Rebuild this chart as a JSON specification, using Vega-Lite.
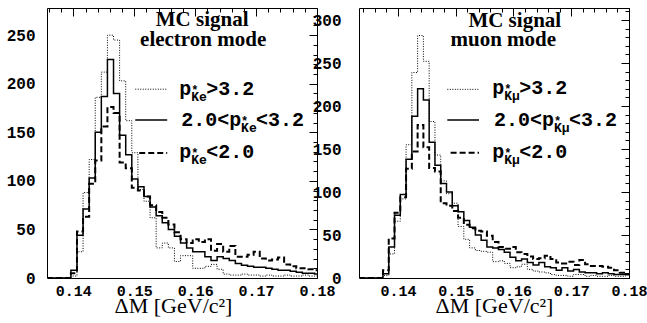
{
  "$schema": "https://vega.github.io/schema/vega-lite/v6.json",
  "background": "white",
  "padding": {"left": 5, "top": 7, "right": 0, "bottom": 0},
  "config": {
    "view": {"stroke": "black", "strokeWidth": 1},
    "axis": {"labelColor": "black", "tickColor": "black", "grid": false, "domain": false}
  },
  "datasets": {
    "e_hist": [
      {"x": 0.1357, "hi": 0, "mid": 0, "lo": 0},
      {"x": 0.1396, "hi": 2, "mid": 8, "lo": 5},
      {"x": 0.1406, "hi": 27, "mid": 44, "lo": 48},
      {"x": 0.1416, "hi": 88, "mid": 71, "lo": 63},
      {"x": 0.1426, "hi": 122, "mid": 103, "lo": 97},
      {"x": 0.1436, "hi": 186, "mid": 150, "lo": 121},
      {"x": 0.1446, "hi": 212, "mid": 187, "lo": 156},
      {"x": 0.1456, "hi": 250, "mid": 225, "lo": 176},
      {"x": 0.1466, "hi": 245, "mid": 190, "lo": 170},
      {"x": 0.1476, "hi": 203, "mid": 147, "lo": 119},
      {"x": 0.1486, "hi": 162, "mid": 127, "lo": 113},
      {"x": 0.1496, "hi": 129, "mid": 102, "lo": 93},
      {"x": 0.1506, "hi": 91, "mid": 94, "lo": 90},
      {"x": 0.1516, "hi": 79, "mid": 84, "lo": 84},
      {"x": 0.1526, "hi": 62, "mid": 73, "lo": 75},
      {"x": 0.1536, "hi": 31, "mid": 64, "lo": 68},
      {"x": 0.1546, "hi": 36, "mid": 57, "lo": 62},
      {"x": 0.1556, "hi": 31, "mid": 50, "lo": 55},
      {"x": 0.1566, "hi": 17, "mid": 43, "lo": 47},
      {"x": 0.1576, "hi": 23, "mid": 36, "lo": 40},
      {"x": 0.1586, "hi": 23, "mid": 31, "lo": 36},
      {"x": 0.1596, "hi": 10, "mid": 27, "lo": 40},
      {"x": 0.1606, "hi": 10, "mid": 27, "lo": 37},
      {"x": 0.1616, "hi": 12, "mid": 22, "lo": 40},
      {"x": 0.1626, "hi": 14, "mid": 18, "lo": 28},
      {"x": 0.1636, "hi": 9, "mid": 22, "lo": 35},
      {"x": 0.1646, "hi": 4, "mid": 20, "lo": 27},
      {"x": 0.1656, "hi": 3, "mid": 18, "lo": 33},
      {"x": 0.1666, "hi": 3, "mid": 15, "lo": 22},
      {"x": 0.1676, "hi": 4, "mid": 13, "lo": 22},
      {"x": 0.1686, "hi": 3, "mid": 12, "lo": 24},
      {"x": 0.1696, "hi": 3, "mid": 11, "lo": 27},
      {"x": 0.1706, "hi": 2, "mid": 11, "lo": 20},
      {"x": 0.1716, "hi": 3, "mid": 10, "lo": 18},
      {"x": 0.1726, "hi": 2, "mid": 9, "lo": 19},
      {"x": 0.1736, "hi": 2, "mid": 8, "lo": 21},
      {"x": 0.1746, "hi": 3, "mid": 8, "lo": 14},
      {"x": 0.1756, "hi": 2, "mid": 7, "lo": 12},
      {"x": 0.1766, "hi": 2, "mid": 6, "lo": 10},
      {"x": 0.1776, "hi": 3, "mid": 5, "lo": 10},
      {"x": 0.1786, "hi": 2, "mid": 5, "lo": 9},
      {"x": 0.1796, "hi": 2, "mid": 4, "lo": 8},
      {"x": 0.18, "hi": 2, "mid": 4, "lo": 8}
    ],
    "m_hist": [
      {"x": 0.13325, "hi": 0, "mid": 0, "lo": 0},
      {"x": 0.1374, "hi": 3, "mid": 5, "lo": 9},
      {"x": 0.1384, "hi": 28, "mid": 36, "lo": 46},
      {"x": 0.1394, "hi": 66, "mid": 73, "lo": 76},
      {"x": 0.1404, "hi": 92, "mid": 97, "lo": 94},
      {"x": 0.1414, "hi": 155, "mid": 138, "lo": 127},
      {"x": 0.1424, "hi": 239, "mid": 188, "lo": 147},
      {"x": 0.1434, "hi": 282, "mid": 220, "lo": 178},
      {"x": 0.1444, "hi": 252, "mid": 207, "lo": 152},
      {"x": 0.1454, "hi": 182, "mid": 158, "lo": 128},
      {"x": 0.1464, "hi": 143, "mid": 131, "lo": 124},
      {"x": 0.1474, "hi": 113, "mid": 110, "lo": 87},
      {"x": 0.1484, "hi": 98, "mid": 100, "lo": 84},
      {"x": 0.1494, "hi": 87, "mid": 84, "lo": 78},
      {"x": 0.1504, "hi": 60, "mid": 77, "lo": 70},
      {"x": 0.1514, "hi": 45, "mid": 67, "lo": 62},
      {"x": 0.1524, "hi": 35, "mid": 59, "lo": 58},
      {"x": 0.1534, "hi": 32, "mid": 50, "lo": 55},
      {"x": 0.1544, "hi": 31, "mid": 44, "lo": 54},
      {"x": 0.1554, "hi": 30, "mid": 36, "lo": 49},
      {"x": 0.1564, "hi": 19, "mid": 35, "lo": 42},
      {"x": 0.1574, "hi": 20, "mid": 33, "lo": 36},
      {"x": 0.1584, "hi": 17, "mid": 30, "lo": 34},
      {"x": 0.1594, "hi": 12, "mid": 24, "lo": 36},
      {"x": 0.1604, "hi": 13, "mid": 20, "lo": 30},
      {"x": 0.1614, "hi": 16, "mid": 22, "lo": 28},
      {"x": 0.1624, "hi": 10, "mid": 18, "lo": 25},
      {"x": 0.1634, "hi": 8, "mid": 15, "lo": 22},
      {"x": 0.1644, "hi": 7, "mid": 18, "lo": 23},
      {"x": 0.1654, "hi": 6, "mid": 13, "lo": 26},
      {"x": 0.1664, "hi": 4, "mid": 12, "lo": 22},
      {"x": 0.1674, "hi": 3, "mid": 9, "lo": 18},
      {"x": 0.1684, "hi": 3, "mid": 12, "lo": 17},
      {"x": 0.1694, "hi": 2, "mid": 8, "lo": 19},
      {"x": 0.1704, "hi": 4, "mid": 10, "lo": 15},
      {"x": 0.1714, "hi": 4, "mid": 7, "lo": 21},
      {"x": 0.1724, "hi": 2, "mid": 6, "lo": 16},
      {"x": 0.1734, "hi": 3, "mid": 6, "lo": 14},
      {"x": 0.1744, "hi": 2, "mid": 5, "lo": 14},
      {"x": 0.1754, "hi": 2, "mid": 6, "lo": 13},
      {"x": 0.1764, "hi": 3, "mid": 5, "lo": 12},
      {"x": 0.1774, "hi": 2, "mid": 4, "lo": 9},
      {"x": 0.1784, "hi": 2, "mid": 4, "lo": 6},
      {"x": 0.1794, "hi": 4, "mid": 5, "lo": 4},
      {"x": 0.18, "hi": 4, "mid": 5, "lo": 4}
    ],
    "e_ann": [
      {"kind": "line", "series": "hi", "x": 0.15017, "x2": 0.15541, "y": 194.4},
      {"kind": "line", "series": "mid", "x": 0.15017, "x2": 0.15541, "y": 162.6},
      {"kind": "line", "series": "lo", "x": 0.15082, "x2": 0.15541, "y": 128.6},
      {"kind": "main", "x": 0.15738, "y": 188.3, "t": "p"},
      {"kind": "main", "x": 0.16181, "y": 188.3, "t": ">3.2"},
      {"kind": "main", "x": 0.15771, "y": 156.4, "t": "2.0<p"},
      {"kind": "main", "x": 0.17, "y": 156.4, "t": "<3.2"},
      {"kind": "main", "x": 0.15738, "y": 123.5, "t": "p"},
      {"kind": "main", "x": 0.16181, "y": 123.5, "t": "<2.0"},
      {"kind": "script", "x": 0.15935, "y": 188.3, "sup": "*", "sub": "Ke"},
      {"kind": "script", "x": 0.16754, "y": 156.4, "sup": "*", "sub": "Ke"},
      {"kind": "script", "x": 0.15935, "y": 123.5, "sup": "*", "sub": "Ke"},
      {"kind": "title", "x": 0.16115, "y": 259.3, "t": "MC signal"},
      {"kind": "title", "x": 0.16131, "y": 239.2, "t": "electron mode"}
    ],
    "m_ann": [
      {"kind": "line", "series": "hi", "x": 0.14854, "x2": 0.15403, "y": 219.4},
      {"kind": "line", "series": "mid", "x": 0.14854, "x2": 0.15403, "y": 183.7},
      {"kind": "line", "series": "lo", "x": 0.14911, "x2": 0.15403, "y": 145.7},
      {"kind": "main", "x": 0.15633, "y": 213.6, "t": "p"},
      {"kind": "main", "x": 0.161, "y": 213.6, "t": ">3.2"},
      {"kind": "main", "x": 0.15662, "y": 176.7, "t": "2.0<p"},
      {"kind": "main", "x": 0.16961, "y": 176.7, "t": "<3.2"},
      {"kind": "main", "x": 0.15633, "y": 139.9, "t": "p"},
      {"kind": "main", "x": 0.161, "y": 139.9, "t": "<2.0"},
      {"kind": "script", "x": 0.15841, "y": 213.6, "sup": "*", "sub": "Kμ"},
      {"kind": "script", "x": 0.16701, "y": 176.7, "sup": "*", "sub": "Kμ"},
      {"kind": "script", "x": 0.15841, "y": 139.9, "sup": "*", "sub": "Kμ"},
      {"kind": "title", "x": 0.16022, "y": 291.9, "t": "MC signal"},
      {"kind": "title", "x": 0.15823, "y": 269.8, "t": "muon mode"}
    ]
  },
  "hconcat": [
    {
      "width": 270,
      "height": 270,
      "resolve": {"axis": {"x": "independent", "y": "independent"}},
      "layer": [
        {
          "data": {"name": "e_hist"},
          "transform": [{"fold": ["hi", "mid", "lo"], "as": ["series", "n"]}],
          "mark": {"type": "line", "interpolate": "step-after", "color": "black", "clip": true},
          "encoding": {
            "x": {"field": "x", "type": "quantitative", "scale": {"domain": [0.13568, 0.18], "nice": false, "zero": false},
              "axis": {"values": [0.14, 0.15, 0.16, 0.17, 0.18], "format": ".2f", "ticks": false, "labelFont": "Liberation Mono", "labelFontWeight": "bold", "labelFontSize": 15, "labelPadding": 5, "labelFlush": false, "labelOverlap": false,
                "title": "ΔM [GeV/c²]", "titleFont": "Liberation Serif", "titleFontWeight": "normal", "titleFontSize": 22, "titleColor": "black", "titleX": 126, "titleY": 34, "titleBaseline": "alphabetic", "titleAlign": "center", "titleAnchor": "start"}},
            "y": {"field": "n", "type": "quantitative", "scale": {"domain": [0, 278], "nice": false},
              "axis": {"values": [0, 50, 100, 150, 200, 250], "ticks": false, "labelFont": "Liberation Mono", "labelFontWeight": "bold", "labelFontSize": 16, "labelPadding": 12, "title": null, "minExtent": 40, "maxExtent": 40}},
            "strokeDash": {"field": "series", "type": "nominal", "scale": {"domain": ["hi", "mid", "lo"], "range": [[1, 1.5], [1, 0], [6, 3]]}, "legend": null},
            "strokeWidth": {"field": "series", "type": "nominal", "scale": {"domain": ["hi", "mid", "lo"], "range": [1, 2, 1.5]}, "legend": null}
          }
        },
        {
          "data": {"name": "e_ann"},
          "transform": [{"filter": "datum.kind === 'line'"}],
          "mark": {"type": "rule", "color": "black"},
          "encoding": {
            "x": {"field": "x", "type": "quantitative", "scale": {"domain": [0.13568, 0.18], "nice": false, "zero": false},
              "axis": {"values": [0.14, 0.15, 0.16, 0.17, 0.18], "labels": false, "tickSize": -8, "tickWidth": 1, "title": null}},
            "x2": {"field": "x2"},
            "y": {"field": "y", "type": "quantitative", "scale": {"domain": [0, 278], "nice": false},
              "axis": {"values": [0, 50, 100, 150, 200, 250], "labels": false, "tickSize": -8, "tickWidth": 1, "title": null, "minExtent": 0, "maxExtent": 0}},
            "strokeDash": {"field": "series", "type": "nominal", "legend": null},
            "strokeWidth": {"field": "series", "type": "nominal", "legend": null}
          }
        },
        {
          "data": {"name": "e_ann"},
          "transform": [{"filter": "datum.kind === 'title'"}],
          "mark": {"type": "text", "font": "Liberation Serif", "fontWeight": "bold", "fontSize": 21, "align": "center", "baseline": "alphabetic", "color": "black"},
          "encoding": {
            "x": {"field": "x", "type": "quantitative", "scale": {"domain": [0.13568, 0.18], "nice": false, "zero": false},
              "axis": {"values": [0.136, 0.138, 0.14, 0.142, 0.144, 0.146, 0.148, 0.15, 0.152, 0.154, 0.156, 0.158, 0.16, 0.162, 0.164, 0.166, 0.168, 0.17, 0.172, 0.174, 0.176, 0.178, 0.18], "labels": false, "tickSize": -4, "tickWidth": 1, "title": null}},
            "y": {"field": "y", "type": "quantitative", "scale": {"domain": [0, 278], "nice": false},
              "axis": {"values": [0, 10, 20, 30, 40, 50, 60, 70, 80, 90, 100, 110, 120, 130, 140, 150, 160, 170, 180, 190, 200, 210, 220, 230, 240, 250, 260, 270], "labels": false, "tickSize": -4, "tickWidth": 1, "title": null, "minExtent": 0, "maxExtent": 0}},
            "text": {"field": "t"}
          }
        },
        {
          "data": {"name": "e_ann"},
          "transform": [{"filter": "datum.kind === 'main'"}],
          "mark": {"type": "text", "font": "Liberation Mono", "fontWeight": "bold", "fontSize": 20, "align": "left", "baseline": "alphabetic", "color": "black"},
          "encoding": {
            "x": {"field": "x", "type": "quantitative", "axis": null},
            "y": {"field": "y", "type": "quantitative", "axis": null},
            "text": {"field": "t"}
          }
        },
        {
          "data": {"name": "e_ann"},
          "transform": [{"filter": "datum.kind === 'script'"}],
          "mark": {"type": "text", "font": "Liberation Mono", "fontWeight": "bold", "fontSize": 12, "align": "left", "baseline": "alphabetic", "dy": -1, "color": "black"},
          "encoding": {
            "x": {"field": "x", "type": "quantitative", "axis": null},
            "y": {"field": "y", "type": "quantitative", "axis": null},
            "text": {"field": "sup"}
          }
        },
        {
          "data": {"name": "e_ann"},
          "transform": [{"filter": "datum.kind === 'script'"}],
          "mark": {"type": "text", "font": "Liberation Mono", "fontWeight": "bold", "fontSize": 13, "align": "left", "baseline": "alphabetic", "dy": 6, "color": "black"},
          "encoding": {
            "x": {"field": "x", "type": "quantitative", "axis": null},
            "y": {"field": "y", "type": "quantitative", "axis": null},
            "text": {"field": "sub"}
          }
        }
      ]
    },
    {
      "width": 270,
      "height": 270,
      "resolve": {"axis": {"x": "independent", "y": "independent"}},
      "layer": [
        {
          "data": {"name": "m_hist"},
          "transform": [{"fold": ["hi", "mid", "lo"], "as": ["series", "n"]}],
          "mark": {"type": "line", "interpolate": "step-after", "color": "black", "clip": true},
          "encoding": {
            "x": {"field": "x", "type": "quantitative", "scale": {"domain": [0.13325, 0.18], "nice": false, "zero": false},
              "axis": {"values": [0.14, 0.15, 0.16, 0.17, 0.18], "format": ".2f", "ticks": false, "labelFont": "Liberation Mono", "labelFontWeight": "bold", "labelFontSize": 15, "labelPadding": 5, "labelFlush": false, "labelOverlap": false,
                "title": "ΔM [GeV/c²]", "titleFont": "Liberation Serif", "titleFontWeight": "normal", "titleFontSize": 22, "titleColor": "black", "titleX": 135, "titleY": 34, "titleBaseline": "alphabetic", "titleAlign": "center", "titleAnchor": "start"}},
            "y": {"field": "n", "type": "quantitative", "scale": {"domain": [0, 314], "nice": false},
              "axis": {"values": [0, 50, 100, 150, 200, 250, 300], "ticks": false, "labelFont": "Liberation Mono", "labelFontWeight": "bold", "labelFontSize": 16, "labelPadding": 18, "title": null, "minExtent": 40, "maxExtent": 40}},
            "strokeDash": {"field": "series", "type": "nominal", "scale": {"domain": ["hi", "mid", "lo"], "range": [[1, 1.5], [1, 0], [6, 3]]}, "legend": null},
            "strokeWidth": {"field": "series", "type": "nominal", "scale": {"domain": ["hi", "mid", "lo"], "range": [1, 2, 1.5]}, "legend": null}
          }
        },
        {
          "data": {"name": "m_ann"},
          "transform": [{"filter": "datum.kind === 'line'"}],
          "mark": {"type": "rule", "color": "black"},
          "encoding": {
            "x": {"field": "x", "type": "quantitative", "scale": {"domain": [0.13325, 0.18], "nice": false, "zero": false},
              "axis": {"values": [0.14, 0.15, 0.16, 0.17, 0.18], "labels": false, "tickSize": -8, "tickWidth": 1, "title": null}},
            "x2": {"field": "x2"},
            "y": {"field": "y", "type": "quantitative", "scale": {"domain": [0, 314], "nice": false},
              "axis": {"values": [0, 50, 100, 150, 200, 250, 300], "labels": false, "tickSize": -8, "tickWidth": 1, "title": null, "minExtent": 0, "maxExtent": 0}},
            "strokeDash": {"field": "series", "type": "nominal", "legend": null},
            "strokeWidth": {"field": "series", "type": "nominal", "legend": null}
          }
        },
        {
          "data": {"name": "m_ann"},
          "transform": [{"filter": "datum.kind === 'title'"}],
          "mark": {"type": "text", "font": "Liberation Serif", "fontWeight": "bold", "fontSize": 21, "align": "center", "baseline": "alphabetic", "color": "black"},
          "encoding": {
            "x": {"field": "x", "type": "quantitative", "scale": {"domain": [0.13325, 0.18], "nice": false, "zero": false},
              "axis": {"values": [0.134, 0.136, 0.138, 0.14, 0.142, 0.144, 0.146, 0.148, 0.15, 0.152, 0.154, 0.156, 0.158, 0.16, 0.162, 0.164, 0.166, 0.168, 0.17, 0.172, 0.174, 0.176, 0.178, 0.18], "labels": false, "tickSize": -4, "tickWidth": 1, "title": null}},
            "y": {"field": "y", "type": "quantitative", "scale": {"domain": [0, 314], "nice": false},
              "axis": {"values": [0, 10, 20, 30, 40, 50, 60, 70, 80, 90, 100, 110, 120, 130, 140, 150, 160, 170, 180, 190, 200, 210, 220, 230, 240, 250, 260, 270, 280, 290, 300, 310], "labels": false, "tickSize": -4, "tickWidth": 1, "title": null, "minExtent": 0, "maxExtent": 0}},
            "text": {"field": "t"}
          }
        },
        {
          "data": {"name": "m_ann"},
          "transform": [{"filter": "datum.kind === 'main'"}],
          "mark": {"type": "text", "font": "Liberation Mono", "fontWeight": "bold", "fontSize": 20, "align": "left", "baseline": "alphabetic", "color": "black"},
          "encoding": {
            "x": {"field": "x", "type": "quantitative", "axis": null},
            "y": {"field": "y", "type": "quantitative", "axis": null},
            "text": {"field": "t"}
          }
        },
        {
          "data": {"name": "m_ann"},
          "transform": [{"filter": "datum.kind === 'script'"}],
          "mark": {"type": "text", "font": "Liberation Mono", "fontWeight": "bold", "fontSize": 12, "align": "left", "baseline": "alphabetic", "dy": -1, "color": "black"},
          "encoding": {
            "x": {"field": "x", "type": "quantitative", "axis": null},
            "y": {"field": "y", "type": "quantitative", "axis": null},
            "text": {"field": "sup"}
          }
        },
        {
          "data": {"name": "m_ann"},
          "transform": [{"filter": "datum.kind === 'script'"}],
          "mark": {"type": "text", "font": "Liberation Mono", "fontWeight": "bold", "fontSize": 13, "align": "left", "baseline": "alphabetic", "dy": 6, "color": "black"},
          "encoding": {
            "x": {"field": "x", "type": "quantitative", "axis": null},
            "y": {"field": "y", "type": "quantitative", "axis": null},
            "text": {"field": "sub"}
          }
        }
      ]
    }
  ],
  "spacing": 42,
  "bounds": "flush"
}
